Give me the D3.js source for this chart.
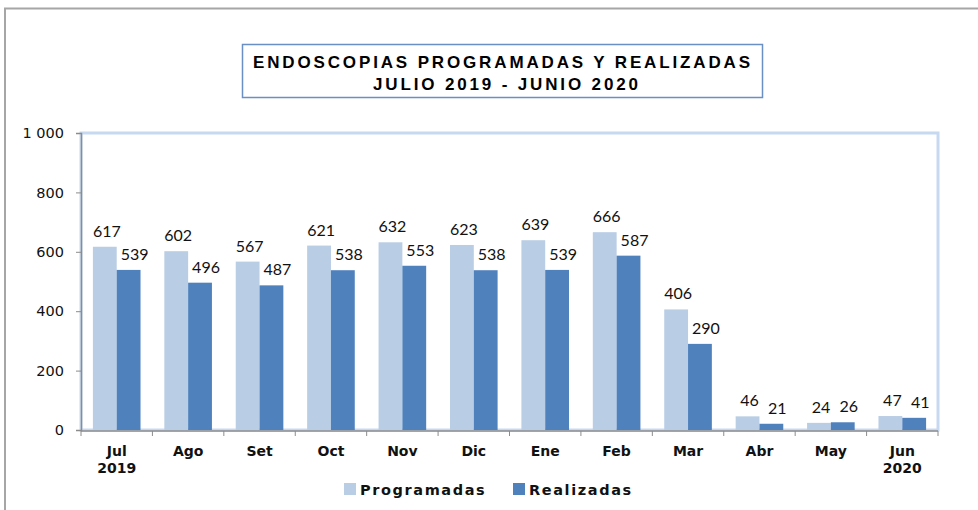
<!DOCTYPE html>
<html>
<head>
<meta charset="utf-8">
<script src="https://cdn.jsdelivr.net/npm/d3@7"></script>
<style>
  body { margin: 0; background: #fff; }
  svg { display: block; }
</style>
</head>
<body>
<div id="chart"></div>
<script>
var months = ["Jul", "Ago", "Set", "Oct", "Nov", "Dic", "Ene", "Feb", "Mar", "Abr", "May", "Jun"]
var years = ["2019", "", "", "", "", "", "", "", "", "", "", "2020"]
var programadas = [617, 602, 567, 621, 632, 623, 639, 666, 406, 46, 24, 47]
var realizadas = [539, 496, 487, 538, 553, 538, 539, 587, 290, 21, 26, 41]
var seriesNames = ["Programadas", "Realizadas"]
var yTicks = [0, 200, 400, 600, 800, 1000]

var width = 978, height = 510
var colors = ["#b9cde5", "#4f81bd"]

var svg = d3.select("#chart").append("svg")
  .attr("width", width).attr("height", height)

// outer frame (only top and left visible)
svg.append("path")
  .attr("d", "M5,510 L5,8.5 L978,8.5")
  .attr("fill", "none").attr("stroke", "#a6a6a6").attr("stroke-width", 2)

// title box
svg.append("rect")
  .attr("x", 242.5).attr("y", 44.5).attr("width", 520).attr("height", 53)
  .attr("fill", "#fff").attr("stroke", "#6a8fc4").attr("stroke-width", 1.5)

svg.append("text")
  .attr("x", 253).attr("y", 68)
  .attr("textLength", 497).attr("lengthAdjust", "spacing")
  .style("font-family", "Liberation Sans Narrow, Arial Narrow, Liberation Sans, sans-serif")
  .style("font-weight", "bold").style("font-size", "17px")
  .text("ENDOSCOPIAS PROGRAMADAS Y REALIZADAS")

svg.append("text")
  .attr("x", 373).attr("y", 90)
  .attr("textLength", 265).attr("lengthAdjust", "spacing")
  .style("font-family", "Liberation Sans Narrow, Arial Narrow, Liberation Sans, sans-serif")
  .style("font-weight", "bold").style("font-size", "17px")
  .text("JULIO 2019 - JUNIO 2020")

var plotLeft = 81, plotRight = 938, plotTop = 133, plotBottom = 430

var x = d3.scaleBand().domain(months).range([plotLeft, plotRight]).paddingInner(0).paddingOuter(0)
var xs = d3.scaleBand().domain(seriesNames).range([0, x.bandwidth()]).paddingInner(0).paddingOuter(0.5)
var y = d3.scaleLinear().domain([0, 1000]).range([plotBottom, plotTop])

// plot area border
svg.append("rect")
  .attr("x", plotLeft).attr("y", plotTop).attr("width", plotRight - plotLeft).attr("height", plotBottom - plotTop)
  .attr("fill", "none").attr("stroke", "#c6d9f1").attr("stroke-width", 3)

var table = months.map(function(m, i) {
  return { month: m, values: [programadas[i], realizadas[i]] }
})

var groups = svg.selectAll("g.month")
  .data(table)
  .enter()
  .append("g")
  .attr("class", "month")
  .attr("transform", function(d) { return "translate(" + x(d.month) + ",0)" })

groups.selectAll("rect")
  .data(function(d) { return d.values.map(function(v, j) { return { name: seriesNames[j], value: v, j: j } }) })
  .enter()
  .append("rect")
  .attr("x", function(d) { return xs(d.name) })
  .attr("y", function(d) { return y(d.value) })
  .attr("width", xs.bandwidth())
  .attr("height", function(d) { return plotBottom - y(d.value) })
  .attr("fill", function(d) { return colors[d.j] })

// data labels
groups.selectAll("text.lbl")
  .data(function(d) { return d.values.map(function(v, j) { return { name: seriesNames[j], value: v, j: j } }) })
  .enter()
  .append("text")
  .attr("class", "lbl")
  .attr("x", function(d) { return xs(d.name) + xs.bandwidth() / 2 + (d.j == 0 ? 2 : 6) })
  .attr("y", function(d) { return y(d.value) - 10 })
  .attr("text-anchor", "middle")
  .style("font-family", "Lato, sans-serif")
  .style("font-size", "16px")
  .style("fill", "#111")
  .text(function(d) { return d.value })

// y axis
var yAxis = svg.append("g")
  .attr("transform", "translate(" + plotLeft + ",0)")
  .call(d3.axisLeft(y).tickValues(yTicks).tickSize(5).tickPadding(12)
    .tickFormat(function(d) { return d3.format(",")(d).replace(",", " ") }))
yAxis.select(".domain").attr("stroke", "#8c8c8c").attr("stroke-width", 1.5)
yAxis.selectAll(".tick line").attr("stroke", "#8c8c8c")
yAxis.selectAll(".tick text")
  .style("font-family", "DejaVu Sans, Verdana, sans-serif")
  .style("font-size", "14.5px").style("fill", "#111")

// x axis line and ticks at category boundaries
svg.append("line")
  .attr("x1", plotLeft).attr("x2", plotRight).attr("y1", plotBottom + 1).attr("y2", plotBottom + 1)
  .attr("stroke", "#8c8c8c").attr("stroke-width", 1.5)
svg.selectAll("line.xtick")
  .data(months.concat(["end"]))
  .enter()
  .append("line")
  .attr("class", "xtick")
  .attr("x1", function(d) { return d == "end" ? plotRight : x(d) })
  .attr("x2", function(d) { return d == "end" ? plotRight : x(d) })
  .attr("y1", plotBottom + 1).attr("y2", plotBottom + 6)
  .attr("stroke", "#8c8c8c")

var catLabels = svg.selectAll("text.cat")
  .data(table)
  .enter()
  .append("text")
  .attr("class", "cat")
  .attr("text-anchor", "middle")
  .style("font-family", "DejaVu Sans, Verdana, sans-serif")
  .style("font-weight", "bold").style("font-size", "14px")
  .style("fill", "#111")
catLabels.append("tspan")
  .attr("x", function(d) { return x(d.month) + x.bandwidth() / 2 })
  .attr("y", 456)
  .text(function(d) { return d.month })
catLabels.append("tspan")
  .attr("x", function(d, i) { return x(d.month) + x.bandwidth() / 2 })
  .attr("y", 473)
  .text(function(d, i) { return years[i] })

// legend
var legendX = [344, 513]
var legend = svg.selectAll("g.legend")
  .data(seriesNames)
  .enter()
  .append("g")
  .attr("class", "legend")
  .attr("transform", function(d, i) { return "translate(" + legendX[i] + ",483)" })
legend.append("rect")
  .attr("x", 0).attr("y", 0).attr("width", 12).attr("height", 12)
  .attr("fill", function(d, i) { return colors[i] })
legend.append("text")
  .attr("x", 16).attr("y", 12)
  .style("font-family", "DejaVu Sans, Verdana, sans-serif")
  .style("font-weight", "bold").style("font-size", "14.5px")
  .style("letter-spacing", "1.6px")
  .style("fill", "#111")
  .text(function(d) { return d })
</script>
</body>
</html>
